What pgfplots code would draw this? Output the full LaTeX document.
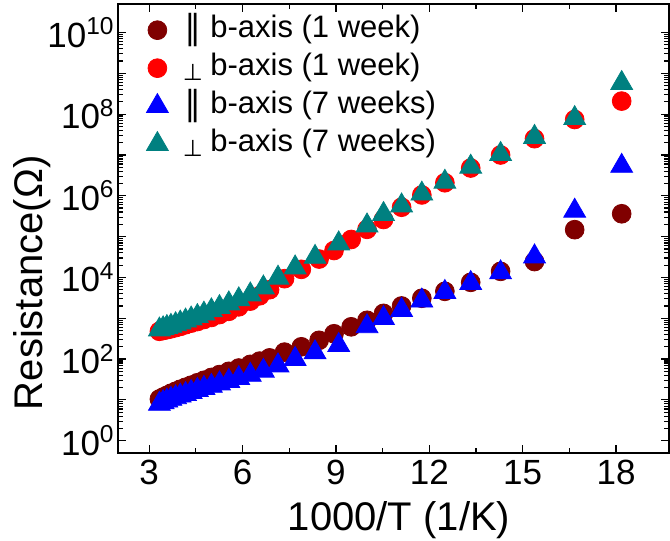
\documentclass[border=0pt]{standalone}
\usepackage{fontspec}
\setmainfont{Liberation Sans}
\newfontfamily\djv{DejaVu Sans}
\usepackage{pgfplots}
\pgfplotsset{compat=1.18}
\definecolor{cMaroon}{RGB}{128,0,0}
\definecolor{cRed}{RGB}{255,0,0}
\definecolor{cBlue}{RGB}{0,0,255}
\definecolor{cTeal}{RGB}{0,128,128}
\newcommand{\PL}{\makebox[9pt][c]{\raisebox{-1pt}{\djv\fontsize{17}{17}\selectfont ∥}}}
\newcommand{\PP}{\makebox[9pt][c]{\raisebox{-2.5pt}{\djv\fontsize{11.5}{11.5}\selectfont ⊥}}}

\pgfplotstableread{
x y
3.33 10.5
3.45 11.7
3.57 12.9
3.70 14.5
3.85 16.2
4.00 18.2
4.17 20.4
4.35 22.9
4.55 26.3
4.76 30.2
5.00 35.5
5.26 41.7
5.56 50.1
5.88 60.3
6.25 74.1
6.55 89.1
6.87 107
7.35 148
7.89 200
8.46 288
8.94 417
9.49 617
10.00 891
10.53 1318
11.11 2000
11.76 3090
12.50 4570
13.33 7590
14.29 14100
15.38 24500
16.67 148000
18.18 363000
}\parOneWeek

\pgfplotstableread{
x y
3.33 479
3.45 501
3.57 525
3.70 550
3.85 589
4.00 631
4.17 692
4.35 759
4.55 832
4.76 933
5.00 1047
5.26 1230
5.56 1479
5.88 1905
6.25 2630
6.55 3548
6.87 5012
7.35 9333
7.89 15800
8.46 28200
8.94 45700
9.49 85100
10.00 151000
10.53 263000
11.11 525000
11.76 1050000
12.50 2090000
13.33 4790000
14.29 10000000
15.38 25100000
16.67 74100000
18.18 209000000
}\perpOneWeek

\pgfplotstableread{
x y
3.33 7.94
3.45 8.71
3.57 9.55
3.70 10.5
3.85 11.5
4.00 12.6
4.17 13.8
4.35 15.5
4.55 17.4
4.76 19.5
5.00 21.9
5.26 25.1
5.56 28.8
5.88 33.9
6.25 40.7
6.67 51.3
7.14 69.2
7.69 100
8.33 145
9.09 219
10.00 631
10.53 1000
11.11 1585
11.76 2690
12.50 4365
13.33 7244
14.29 13200
15.38 32400
16.67 427000
18.18 5370000
}\parSevenWeeks

\pgfplotstableread{
x y
3.33 525
3.45 562
3.57 603
3.70 646
3.85 708
4.00 776
4.17 871
4.35 977
4.55 1122
4.76 1288
5.00 1549
5.26 1862
5.56 2291
5.88 2884
6.25 3802
6.67 5623
7.14 9772
7.69 17400
8.33 31600
9.09 67600
10.00 186000
10.53 355000
11.11 575000
11.76 1120000
12.50 2190000
13.33 5130000
14.29 10500000
15.38 27500000
16.67 79400000
18.18 575000000
}\perpSevenWeeks

\begin{document}
\begin{tikzpicture}
\begin{axis}[
  scale only axis,
  width=275.5pt, height=224.5pt,
  ymode=log,
  xmin=2, xmax=19.7,
  ymin=0.5, ymax=5e10,
  xtick={3,6,9,12,15,18},
  minor x tick num=1,
  ytick={1,10,100,1000,1e4,1e5,1e6,1e7,1e8,1e9,1e10},
  yticklabels={10\textsuperscript{0},,10\textsuperscript{2},,10\textsuperscript{4},,10\textsuperscript{6},,10\textsuperscript{8},,10\textsuperscript{10}},
  /pgf/number format/assume math mode=true,
  tick label style={font=\fontsize{17.5}{20}\selectfont},
  yticklabel style={inner sep=1.5pt},
  major tick length=4pt,
  minor tick length=2.5pt,
  tick style={line width=0.6pt, black},
  axis line style={line width=1pt},
  xlabel={1000/T (1/K)},
  ylabel={Resistance(Ω)},
  label style={font=\fontsize{20}{24}\selectfont},
  xlabel style={at={(axis description cs:0.51,-0.15)}, anchor=center},
  ylabel style={at={(axis description cs:-0.155,0.379)}, anchor=center},
  legend style={draw=none, fill=none,
    at={(axis description cs:0.049,0.974)}, anchor=north west,
    inner sep=0pt, outer sep=0pt, row sep=4.5pt, column sep=0pt,
    font=\fontsize{15.5}{18}\selectfont,
    nodes={inner sep=0pt, text height=11pt, text depth=3.5pt}},
  legend cell align=left,
  every axis plot post/.append style={
    legend image code/.code={\draw[##1] plot coordinates {(0pt,0pt)}; \path (-6pt,0pt) (13pt,0pt);}},
]
\addplot[only marks, mark=*, mark size=4.7pt, mark options={draw=cMaroon, fill=cMaroon}] table[x=x,y=y] {\parOneWeek};
\addlegendentry{\PL\ b-axis (1 week)}
\addplot[only marks, mark=*, mark size=4.7pt, mark options={draw=cRed, fill=cRed}] table[x=x,y=y] {\perpOneWeek};
\addlegendentry{\PP\ b-axis (1 week)}
\addplot[only marks, mark=triangle*, mark size=6.3pt, mark options={draw=cBlue, fill=cBlue}] table[x=x,y=y] {\parSevenWeeks};
\addlegendentry{\PL\ b-axis (7 weeks)}
\addplot[only marks, mark=triangle*, mark size=6.3pt, mark options={draw=cTeal, fill=cTeal}] table[x=x,y=y] {\perpSevenWeeks};
\addlegendentry{\PP\ b-axis (7 weeks)}
\end{axis}
\pgfresetboundingbox
\path[use as bounding box] (current axis.south west) ++(-59pt,-44pt) rectangle ++(335pt,270.5pt);
\end{tikzpicture}
\end{document}
